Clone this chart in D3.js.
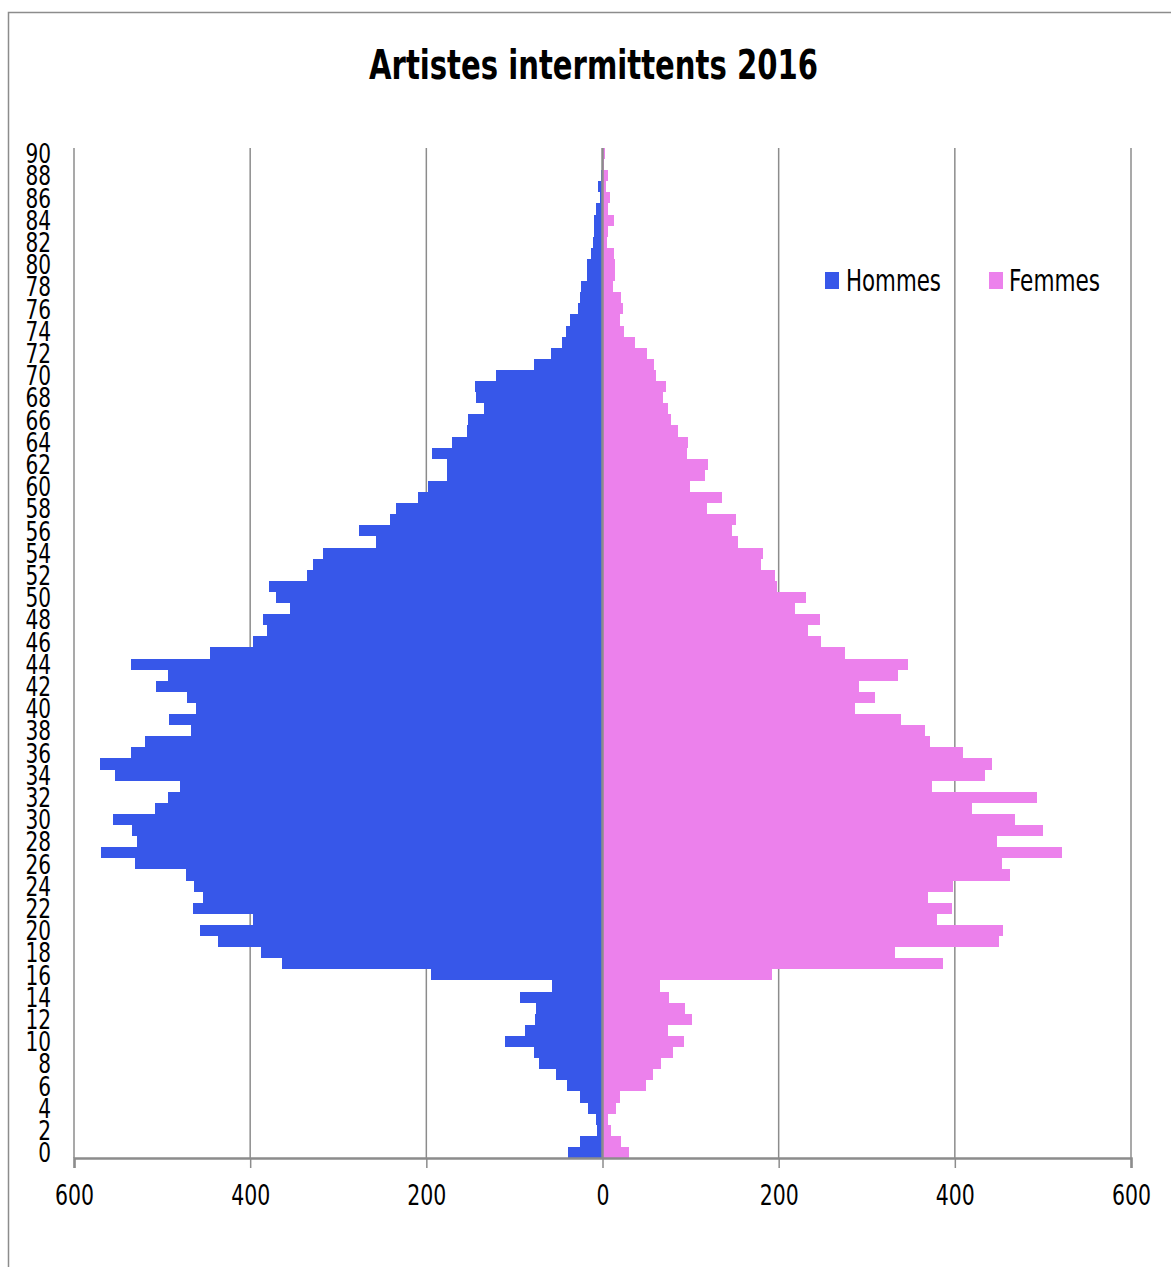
<!DOCTYPE html>
<html>
<head>
<meta charset="utf-8">
<script src="https://cdn.jsdelivr.net/npm/d3@7/dist/d3.min.js"></script>
<style>
  html, body { margin: 0; padding: 0; background: #ffffff; }
  svg { display: block; }
  text { font-family: "DejaVu Sans Condensed", "DejaVu Sans", sans-serif; fill: #000; }
</style>
</head>
<body>
<svg id="chart" width="1171" height="1267"></svg>
<script>
// ---- data ----
const title = "Artistes intermittents 2016";
const seriesNames = ["Hommes", "Femmes"];
const seriesColors = ["#3757E9", "#EC81EC"];
const ages = d3.range(0, 91);
const hommes = [39,26,6,7,16,25,40,53,72,78,
  111,88,77,76,94,57,195,364,388,437,
  457,397,465,454,464,473,531,569,529,534,
  556,508,493,480,553,570,535,519,467,492,
  461,472,507,493,535,446,397,381,385,355,
  371,379,336,329,317,257,277,241,234,209,
  198,177,176,194,171,154,153,135,144,145,
  121,78,59,46,42,37,28,25,24,18,
  18,13,11,10,10,7,3,5,2,1,
  1];
const femmes = [30,21,10,6,15,20,49,57,66,80,
  92,74,102,94,75,65,192,386,332,450,
  455,380,397,370,398,463,454,522,448,500,
  468,419,493,374,434,442,409,372,366,339,
  287,309,291,335,347,275,248,233,247,219,
  231,198,196,180,182,154,147,151,119,136,
  99,116,120,96,97,86,78,74,69,72,
  61,58,51,37,24,20,23,21,12,14,
  14,13,5,6,13,6,8,4,6,2,
  3];
const xTicks = [-600, -400, -200, 0, 200, 400, 600];
const yLabelAges = ages.filter(a => a % 2 === 0);

// ---- layout ----
const svg = d3.select("#chart");
const plotLeft = 74, plotRight = 1131, plotTop = 148, plotBottom = 1158;

const x = d3.scaleLinear().domain([-600, 600]).range([plotLeft, plotRight]);
const y = d3.scaleBand().domain(ages).range([plotBottom, plotTop]).padding(0);

// frame
svg.append("rect")
  .attr("x", 8.5).attr("y", 12.5)
  .attr("width", 1300).attr("height", 1400)
  .attr("fill", "none").attr("stroke", "#8c8c8c").attr("stroke-width", 1.5);

// title
svg.append("text")
  .attr("x", 593.5).attr("y", 79)
  .attr("text-anchor", "middle")
  .attr("font-size", 40).attr("font-weight", "bold")
  .attr("textLength", 449).attr("lengthAdjust", "spacingAndGlyphs")
  .text(title);

// gridlines (behind bars)
svg.append("g").selectAll("line")
  .data(xTicks.filter(d => d !== 0))
  .join("line")
  .attr("x1", d => x(d)).attr("x2", d => x(d))
  .attr("y1", plotTop).attr("y2", plotBottom)
  .attr("stroke", "#8c8c8c").attr("stroke-width", 1.5);

// bars
const gBars = svg.append("g").attr("shape-rendering", "crispEdges");
gBars.selectAll("rect.h")
  .data(ages)
  .join("rect").attr("class", "h")
  .attr("x", a => x(-hommes[a]))
  .attr("width", a => x(0) - x(-hommes[a]))
  .attr("y", a => y(a))
  .attr("height", y.bandwidth())
  .attr("fill", seriesColors[0]);
gBars.selectAll("rect.f")
  .data(ages)
  .join("rect").attr("class", "f")
  .attr("x", x(0))
  .attr("width", a => x(femmes[a]) - x(0))
  .attr("y", a => y(a))
  .attr("height", y.bandwidth())
  .attr("fill", seriesColors[1]);

// zero line on top
svg.append("line")
  .attr("x1", x(0)).attr("x2", x(0))
  .attr("y1", plotTop).attr("y2", plotBottom)
  .attr("stroke", "#8c8c8c").attr("stroke-width", 2.5);

// x axis
const xAxis = d3.axisBottom(x)
  .tickValues(xTicks)
  .tickFormat(d => String(Math.abs(d)))
  .tickSize(10).tickPadding(0);
const gx = svg.append("g").attr("transform", `translate(0,${plotBottom})`).call(xAxis);
gx.select(".domain").attr("stroke", "#8c8c8c").attr("stroke-width", 2.5);
gx.selectAll(".tick line").attr("stroke", "#8c8c8c").attr("stroke-width", 1.5);
gx.selectAll(".tick text")
  .attr("y", 47).attr("dy", null)
  .attr("font-size", 28)
  .attr("font-family", "'DejaVu Sans Condensed', 'DejaVu Sans', sans-serif")
  .attr("fill", "#000")
  .attr("textLength", function() { return this.textContent.length * 13; })
  .attr("lengthAdjust", "spacingAndGlyphs");

// y labels
svg.append("g").selectAll("text")
  .data(yLabelAges)
  .join("text")
  .attr("x", 51)
  .attr("y", a => y(a) + y.bandwidth() / 2)
  .attr("dy", "0.36em")
  .attr("text-anchor", "end")
  .attr("font-size", 27)
  .attr("textLength", a => String(a).length * 12.8)
  .attr("lengthAdjust", "spacingAndGlyphs")
  .text(a => String(a));

// legend
const legendItems = [
  {name: seriesNames[0], color: seriesColors[0], sx: 825, tx: 846, tw: 95},
  {name: seriesNames[1], color: seriesColors[1], sx: 989, tx: 1009, tw: 91}
];
const gLeg = svg.append("g");
legendItems.forEach(it => {
  gLeg.append("rect")
    .attr("x", it.sx).attr("y", 272)
    .attr("width", 14).attr("height", 17)
    .attr("fill", it.color);
  gLeg.append("text")
    .attr("x", it.tx).attr("y", 290.5)
    .attr("font-size", 29.5)
    .attr("textLength", it.tw).attr("lengthAdjust", "spacingAndGlyphs")
    .text(it.name);
});
</script>
</body>
</html>
